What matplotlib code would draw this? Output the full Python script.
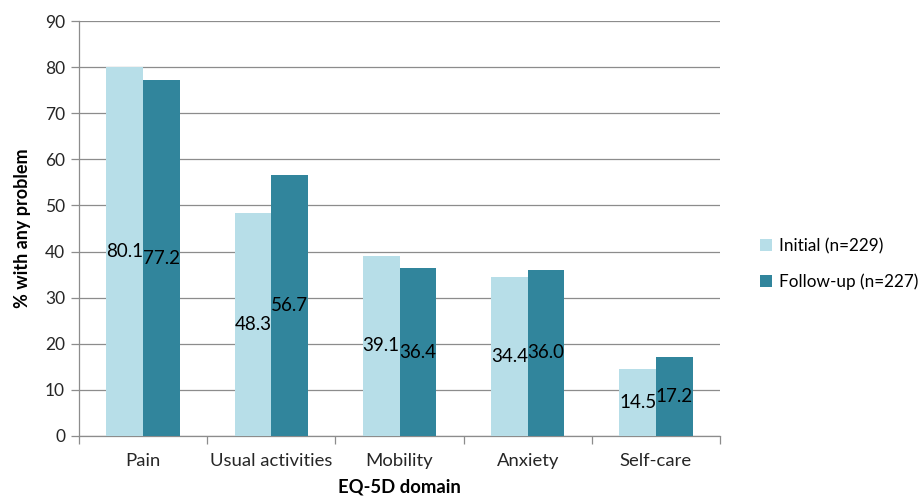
import matplotlib
matplotlib.use("Agg")
import matplotlib.pyplot as plt
import numpy as np

categories = ["Pain", "Usual activities", "Mobility", "Anxiety", "Self-care"]
initial = [80.1, 48.3, 39.1, 34.4, 14.5]
followup = [77.2, 56.7, 36.4, 36.0, 17.2]
series_names = ["Initial (n=229)", "Follow-up (n=227)"]
y_ticks = list(range(0, 91, 10))

plt.rcParams['font.family'] = ['Lato', 'DejaVu Sans']

fig = plt.figure(figsize=(9.21, 5.04), dpi=100)
ax = fig.add_axes([79/921, (504-436)/504, (720-79)/921, (436-21)/504])

x = np.arange(len(categories))
w = 0.286
c_light = "#B7DEE8"
c_dark = "#31859C"
b1 = ax.bar(x - w/2, initial, w, color=c_light, label=series_names[0], zorder=3)
b2 = ax.bar(x + w/2, followup, w, color=c_dark, label=series_names[1], zorder=3)

for bars, vals in ((b1, initial), (b2, followup)):
    for r, v in zip(bars, vals):
        ax.text(r.get_x() + r.get_width()/2, v/2, f"{v:.1f}", ha="center", va="center",
                fontsize=13.5, color="#000000", zorder=4)

ax.set_xlim(-0.5, len(categories) - 0.5)
ax.set_ylim(0, 90)
ax.set_yticks(y_ticks)
ax.set_yticklabels([str(t) for t in y_ticks], fontsize=12.5, color="#262626")
ax.yaxis.grid(True, color="#8C8C8C", linewidth=0.9, zorder=0)
ax.set_axisbelow(True)

ax.set_xticks(np.arange(-0.5, len(categories) + 0.5, 1.0))
ax.set_xticklabels([])
ax.set_xticks(x, minor=True)
ax.set_xticklabels(categories, minor=True, fontsize=13.3, color="#262626")
ax.tick_params(axis="x", which="minor", length=0, pad=12)
ax.tick_params(axis="x", which="major", length=6, color="#8C8C8C", width=0.9)
ax.tick_params(axis="y", length=6, color="#8C8C8C", width=0.9, pad=4)

for s in ("top", "right"):
    ax.spines[s].set_visible(False)
for s in ("left", "bottom"):
    ax.spines[s].set_color("#8C8C8C")
    ax.spines[s].set_linewidth(0.9)

ax.set_xlabel("EQ-5D domain", fontsize=13.3, fontweight="bold", labelpad=7)
ax.set_ylabel("% with any problem", fontsize=13, fontweight="bold", labelpad=10)

fig.legend(handles=[b1, b2], labels=series_names, loc="center left",
           bbox_to_anchor=(745/921, 1 - 264/504), frameon=False, fontsize=12.3,
           handlelength=0.7, handleheight=0.7, handletextpad=0.4, labelspacing=1.15)

fig.savefig("out.png", dpi=100)
